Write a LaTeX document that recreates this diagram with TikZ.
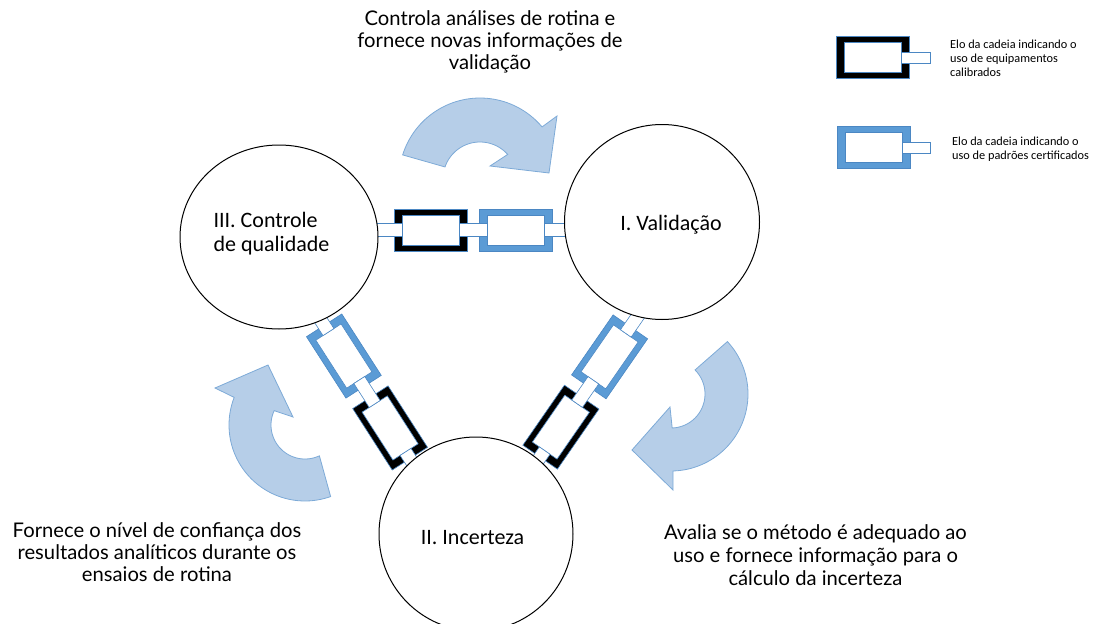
\documentclass[tikz,border=0pt]{standalone}
\usepackage{fontspec}
\usetikzlibrary{shapes.geometric}
\setmainfont{Carlito}
\newfontfamily\latofont{Lato}
\definecolor{linkblue}{RGB}{91,155,213}
\definecolor{linkline}{RGB}{75,135,195}
\definecolor{arrfill}{RGB}{182,206,232}
\definecolor{arrline}{RGB}{125,170,215}
\tikzset{
  ring/.style={draw=black, line width=1pt, fill=white, inner sep=0pt},
  linkedge/.style={draw=linkline, line width=0.6pt},
  tabbox/.style={draw=linkline, line width=0.6pt, fill=white},
  bigarrow/.style={draw=arrline, line width=0.8pt, fill=arrfill},
  ringlabel/.style={inner sep=0pt, font=\fontsize{22}{23.5}\selectfont, align=left},
  desc/.style={inner sep=0pt, font=\latofont\fontsize{20.2}{21.7}\selectfont, align=center},
  legtext/.style={inner sep=0pt, anchor=west, font=\fontsize{12.3}{14}\selectfont, align=left}
}
\newcommand\chainlink[2]{%
  \draw[linkedge, fill=#2] ({#1-36.5},-21) rectangle ({#1+36.5},21);
  \draw[linkedge, fill=white] ({#1-28.5},-15) rectangle ({#1+28.5},15);
}
\begin{document}
\begin{tikzpicture}[x=1pt,y=-1pt]
\useasboundingbox (0,0) rectangle (1093,624);
\clip (0,0) rectangle (1093,624);

% curved arrows
\draw[bigarrow] plot[domain=162.7:40,samples=50,variable=\t] ({480+81*cos(\t)},{179-81*sin(\t)})
  -- (557,116) -- (549,173) -- (490,166)
  -- plot[domain=41.6:161,samples=40,variable=\t] ({480+37*cos(\t)},{179-37*sin(\t)}) -- cycle;
\draw[bigarrow] plot[domain=158.7:289.7,samples=50,variable=\t] ({305+76*cos(\t)},{425-76*sin(\t)})
  -- plot[domain=295:155,samples=40,variable=\t] ({305+34*cos(\t)},{425-34*sin(\t)})
  -- (293,417) -- (268,365) -- (215,388) -- cycle;
\draw[bigarrow] plot[domain=42.9:-88.5,samples=50,variable=\t] ({671+77*cos(\t)},{394-77*sin(\t)})
  -- (673,490) -- (632,450) -- (670,407)
  -- plot[domain=-88:45,samples=40,variable=\t] ({671+34*cos(\t)},{394-34*sin(\t)}) -- cycle;

% chains
\begin{scope}[shift={(473.25,230)}]
  \chainlink{-42.75}{black}
  \chainlink{42.75}{linkblue}
  \draw[tabbox] (-120,-6.5) rectangle (-71.25,6.5);
  \draw[tabbox] (-14.25,-6.5) rectangle (14.25,6.5);
  \draw[tabbox] (71.25,-6.5) rectangle (120,6.5);
\end{scope}
\begin{scope}[shift={(367,392)}, rotate=-57.25]
  \chainlink{-42.75}{linkblue}
  \chainlink{42.75}{black}
  \draw[tabbox] (-120,-6.5) rectangle (-71.25,6.5);
  \draw[tabbox] (-14.25,-6.5) rectangle (14.25,6.5);
  \draw[tabbox] (71.25,-6.5) rectangle (120,6.5);
\end{scope}
\begin{scope}[shift={(585.25,392)}, rotate=-124.7]
  \chainlink{-42.75}{linkblue}
  \chainlink{42.75}{black}
  \draw[tabbox] (-120,-6.5) rectangle (-71.25,6.5);
  \draw[tabbox] (-14.25,-6.5) rectangle (14.25,6.5);
  \draw[tabbox] (71.25,-6.5) rectangle (120,6.5);
\end{scope}

% circles
\node[ring, ellipse, minimum width=198pt, minimum height=184pt] (qc) at (279,237) {};
\node[ring, circle, minimum size=195pt] (val) at (662,222) {};
\node[ring, circle, minimum size=194pt] (inc) at (476,534) {};
\node[ringlabel] (qct) at (271.5,233.5) {III. Controle\\de qualidade};
\node[ringlabel] (valt) at (671,225) {I. Validação};
\node[ringlabel] (inct) at (472.5,538) {II. Incerteza};

% descriptions
\node[desc] (dtop) at (490,42) {Controla análises de rotina e\\fornece novas informações de\\validação};
\node[desc] (dleft) at (157,552) {Fornece o nível de confiança dos\\resultados analíticos durante os\\ensaios de rotina};
\node[desc, font=\latofont\fontsize{20.2}{23}\selectfont] (dright) at (815.5,555) {Avalia se o método é adequado ao\\uso e fornece informação para o\\cálculo da incerteza};

% legend
\begin{scope}[shift={(873,57.5)}]
  \chainlink{0}{black}
  \draw[tabbox] (28.5,-5.5) rectangle (57,5.5);
\end{scope}
\begin{scope}[shift={(873.5,147.5)}]
  \chainlink{0}{linkblue}
  \draw[tabbox] (28.5,-5.5) rectangle (57,5.5);
\end{scope}
\node[legtext] (leg1) at (950,58.7) {Elo da cadeia indicando o\\uso de equipamentos\\calibrados};
\node[legtext] (leg2) at (952,149.2) {Elo da cadeia indicando o\\uso de padrões certificados};
\end{tikzpicture}
\end{document}
